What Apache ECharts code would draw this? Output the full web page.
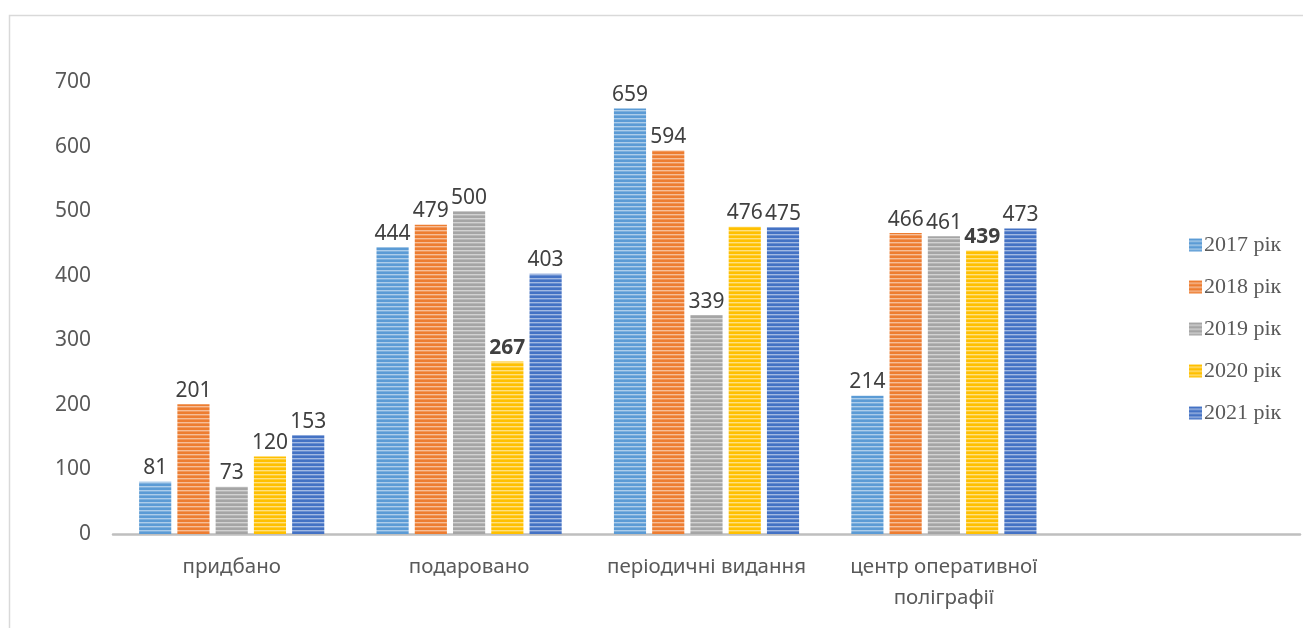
<!DOCTYPE html>
<html>
<head>
<meta charset="utf-8">
<script src="https://cdn.jsdelivr.net/npm/echarts@6/dist/echarts.min.js"></script>
<style>
  html, body { margin: 0; padding: 0; background: #fff; }
  #main { width: 1303px; height: 628px; }
</style>
</head>
<body>
<div id="main"></div>
<script>
// дані діаграми
const categories = ['придбано', 'подаровано', 'періодичні видання', 'центр оперативної\nполіграфії', ''];
const seriesNames = ['2017 рік', '2018 рік', '2019 рік', '2020 рік', '2021 рік'];
const v2017 = [81, 444, 659, 214];
const v2018 = [201, 479, 594, 466];
const v2019 = [73, 500, 339, 461];
const v2020 = [120, 267, 476, 439];
const v2021 = [153, 403, 475, 473];
const yTicks = [0, 700, 100]; // min, max, interval
const boldLabels2020 = [1, 3];

const colors = ['#5b9bd5', '#ed7d31', '#a5a5a5', '#ffc000', '#4472c4'];

// смугаста заливка як в Excel
function mix(hex, t) {
    const n = parseInt(hex.slice(1), 16);
    const r = n >> 16, g = (n >> 8) & 255, b = n & 255;
    const m = c => Math.round(c + (255 - c) * t);
    return `rgb(${m(r)},${m(g)},${m(b)})`;
}
function stripes(hex) {
    const c = document.createElement('canvas');
    c.width = 4; c.height = 4;
    const ctx = c.getContext('2d');
    ctx.fillStyle = hex; ctx.fillRect(0, 0, 4, 2);
    ctx.fillStyle = mix(hex, 0.5); ctx.fillRect(0, 2, 4, 1);
    ctx.fillStyle = mix(hex, 0.2); ctx.fillRect(0, 3, 4, 1);
    return { image: c, repeat: 'repeat' };
}

const allValues = [v2017, v2018, v2019, v2020, v2021];

const chart = echarts.init(document.getElementById('main'));
chart.setOption({
    animation: false,
    graphic: [{
        type: 'rect',
        shape: { x: 9.5, y: 15.5, width: 1320, height: 640 },
        style: { fill: 'none', stroke: '#d9d9d9', lineWidth: 1.5 },
        silent: true,
    }],
    legend: {
        orient: 'vertical',
        left: 1184, top: 229,
        itemWidth: 13, itemHeight: 13,
        itemGap: 20,
        icon: 'rect',
        textStyle: { fontFamily: 'Liberation Serif', fontSize: 22, color: '#595959', padding: [0, 0, 0, -3] },
        data: seriesNames,
    },
    grid: { left: 113, right: 3, top: 82, bottom: 94, containLabel: false },
    xAxis: {
        type: 'category',
        data: categories,
        axisLine: { lineStyle: { color: '#bfbfbf', width: 2.5 } },
        axisTick: { show: false },
        axisLabel: {
            margin: 18,
            fontFamily: 'Noto Sans', fontSize: 20.5, color: '#595959',
            lineHeight: 31, interval: 0,
        },
    },
    yAxis: {
        type: 'value',
        min: yTicks[0], max: yTicks[1], interval: yTicks[2],
        splitLine: { show: false },
        axisLine: { show: false },
        axisTick: { show: false },
        axisLabel: { margin: 22, fontFamily: 'Noto Sans', fontSize: 21, color: '#595959' },
    },
    series: seriesNames.map((name, i) => ({
        name,
        type: 'bar',
        barGap: '19%',
        barCategoryGap: '22%',
        data: allValues[i].map((v, j) => (i === 3 && boldLabels2020.includes(j))
            ? { value: v, label: { fontWeight: 'bold' } }
            : v),
        itemStyle: { color: stripes(colors[i]) },
        label: {
            show: true, position: 'top', distance: 3,
            fontFamily: 'Noto Sans', fontSize: 21, color: '#404040',
        },
    })),
});
</script>
</body>
</html>
